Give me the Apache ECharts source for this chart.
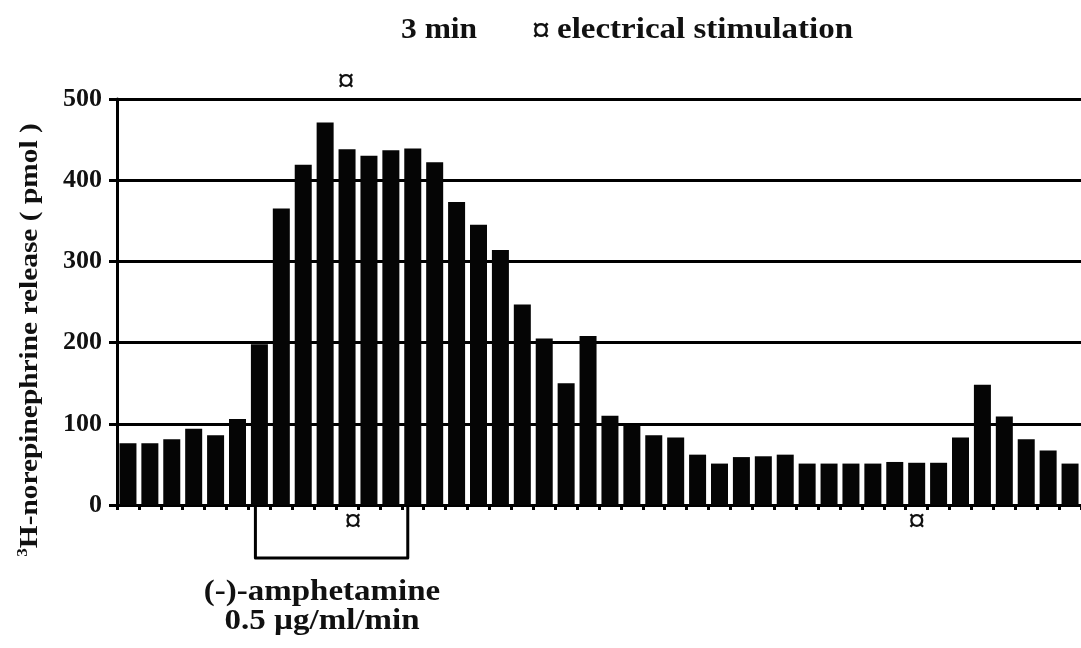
<!DOCTYPE html>
<html>
<head>
<meta charset="utf-8">
<script src="https://cdn.jsdelivr.net/npm/echarts@6/dist/echarts.min.js"></script>
<style>
html,body{margin:0;padding:0;background:#fff;}
#c{width:1081px;height:648px;}
</style>
</head>
<body>
<div id="c"></div>
<script>
const categories = ['1','2','3','4','5','6','7','8','9','10','11','12','13','14','15','16','17','18','19','20','21','22','23','24','25','26','27','28','29','30','31','32','33','34','35','36','37','38','39','40','41','42','43','44'];
const release = [76,76,81,94,86,106,198,365,419,471,438,430,437,439,422,373,345,314,247,205,150,208,110,98,86,83,62,51,59,60,62,51,51,51,51,53,52,52,83,148,109,81,67,51];
const yTicks = [0,100,200,300,400,500];
const stimAbove = [10];
const stimBelow = [10, 36];
const amphStart = 6, amphEnd = 13;

const FONT = "'Liberation Serif','Times New Roman',serif";
const chart = echarts.init(document.getElementById('c'));
chart.setOption({
  animation:false,
  backgroundColor:'#fff',
  grid:{left:117, top:99, width:974, height:406},
  xAxis:{
    type:'category', data:categories, boundaryGap:true,
    axisLine:{lineStyle:{color:'#000', width:3}},
    axisTick:{show:true, length:5, lineStyle:{color:'#000', width:3}},
    axisLabel:{show:false}, splitLine:{show:false}
  },
  yAxis:{
    type:'value', min:yTicks[0], max:yTicks[yTicks.length-1], interval:100,
    axisLine:{show:true, lineStyle:{color:'#000', width:3}},
    axisTick:{show:true, length:8, lineStyle:{color:'#000', width:3}},
    axisLabel:{color:'#111', fontFamily:FONT, fontWeight:'bold', fontSize:26, margin:15},
    splitLine:{show:true, lineStyle:{color:'#000', width:3}}
  },
  series:[{
    type:'bar', data:release, barWidth:17,
    itemStyle:{color:'#050505'}
  }]
});

function px(i){ return chart.convertToPixel({xAxisIndex:0}, i); }
const y0 = chart.convertToPixel({yAxisIndex:0}, 0);
const y500 = chart.convertToPixel({yAxisIndex:0}, 500);
const g = [];
const SX = 1.1;
g.push({type:'text', x:401, y:30, scaleX:1.05, style:{text:'3 min', font:'bold 30px '+FONT, fill:'#111', verticalAlign:'middle'}});
g.push({type:'text', x:541, y:33, style:{text:'¤', font:'bold 36px '+FONT, fill:'#111', align:'center', verticalAlign:'middle'}});
g.push({type:'text', x:557, y:30, scaleX:SX, style:{text:'electrical stimulation', font:'bold 30px '+FONT, fill:'#111', verticalAlign:'middle'}});
stimAbove.forEach(i=>{
  g.push({type:'text', x:px(i)-1, y:y500-16, style:{text:'¤', font:'bold 34px '+FONT, fill:'#111', align:'center', verticalAlign:'middle'}});
});
stimBelow.forEach((i,k)=>{
  g.push({type:'text', x:px(i)+(k===0?6:0), y:y0+18, style:{text:'¤', font:'bold 34px '+FONT, fill:'#111', align:'center', verticalAlign:'middle'}});
});
const xl = px(amphStart)-4, xr = px(amphEnd)-5, yb = y0+53;
g.push({type:'polyline', shape:{points:[[xl,y0],[xl,yb],[xr,yb],[xr,y0]]}, style:{stroke:'#000', lineWidth:3, fill:null, lineCap:'round', lineJoin:'round'}});
const xc = 322;
g.push({type:'text', x:xc, y:yb+34, scaleX:SX, style:{text:'(-)-amphetamine', font:'bold 30px '+FONT, fill:'#111', align:'center', verticalAlign:'middle'}});
g.push({type:'text', x:xc, y:yb+63, scaleX:SX, style:{text:'0.5 µg/ml/min', font:'bold 30px '+FONT, fill:'#111', align:'center', verticalAlign:'middle'}});
g.push({type:'text', x:30, y:340, rotation:Math.PI/2, scaleX:1.13, style:{
  text:'{s|3}{m|H-norepinephrine release ( pmol )}',
  rich:{s:{font:'bold 15px '+FONT, fill:'#111', verticalAlign:'top', lineHeight:28}, m:{font:'bold 26px '+FONT, fill:'#111', lineHeight:28}},
  align:'center', verticalAlign:'middle'}});
chart.setOption({graphic:g});
</script>
</body>
</html>
